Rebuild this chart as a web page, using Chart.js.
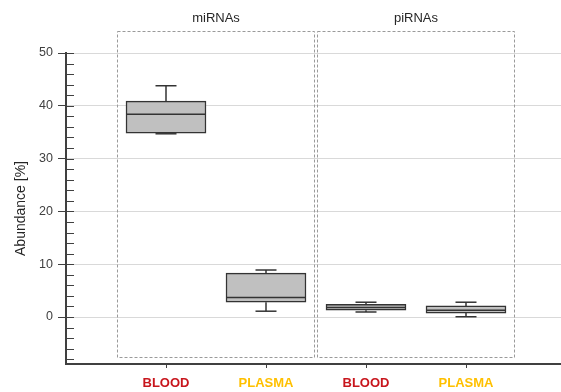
<!DOCTYPE html>
<html>
<head>
<meta charset="utf-8">
<script src="https://cdn.jsdelivr.net/npm/chart.js@4/dist/chart.umd.min.js"></script>
<style>
  html, body { margin: 0; padding: 0; background: #fff; }
</style>
</head>
<body>
<canvas id="chart" width="561" height="392"></canvas>
<script>
const categories = ['BLOOD', 'PLASMA', 'BLOOD', 'PLASMA'];
const labelColors = ['#c8161d', '#ffc000', '#c8161d', '#ffc000'];
const groups = ['miRNAs', 'piRNAs'];
const whiskerLow = [34.7, 1.1, 0.95, 0.05];
const q1 = [34.8, 2.8, 1.3, 0.75];
const median = [38.4, 3.7, 1.8, 1.3];
const q3 = [40.9, 8.3, 2.4, 2.1];
const whiskerHigh = [43.8, 8.9, 2.8, 2.8];
const yTicks = [0, 10, 20, 30, 40, 50];

const font = 'Liberation Sans, Arial, sans-serif';
Chart.defaults.font.family = font;

// minor ticks, dashed group panels, whiskers and medians
const boxExtras = {
  id: 'boxExtras',
  beforeDatasetsDraw(chart) {
    const { ctx, scales: { x, y } } = chart;
    ctx.save();
    ctx.strokeStyle = '#404040';
    ctx.lineWidth = 1;
    for (let v = -8; v <= 50; v += 2) {
      const py = Math.round(y.getPixelForValue(v)) + 0.5;
      ctx.beginPath();
      ctx.moveTo(x.left, py);
      ctx.lineTo(x.left + 8, py);
      ctx.stroke();
    }

    ctx.setLineDash([3, 2]);
    ctx.strokeStyle = '#9a9a9a';
    ctx.fillStyle = '#262626';
    ctx.font = '13px ' + font;
    ctx.textAlign = 'center';
    ctx.textBaseline = 'middle';
    groups.forEach((g, i) => {
      const l = Math.round(x.getPixelForValue(i * 2 + 0.51)) + 0.5;
      const r = Math.round(x.getPixelForValue(i * 2 + 2.48)) + 0.5;
      const t = Math.round(y.getPixelForValue(54.2)) + 0.5;
      const b = Math.round(y.getPixelForValue(-7.6)) + 0.5;
      ctx.strokeRect(l, t, r - l, b - t);
      ctx.fillText(g, (l + r) / 2, 18);
    });
    ctx.restore();
  },
  afterDatasetsDraw(chart) {
    const { ctx, scales: { x, y } } = chart;
    ctx.save();
    ctx.strokeStyle = '#333';
    ctx.lineWidth = 1.5;
    categories.forEach((c, i) => {
      const cx = x.getPixelForValue(i + 1);
      const half = 40, cap = 10.5;
      const seg = (x1, y1, x2, y2) => {
        ctx.beginPath(); ctx.moveTo(x1, y1); ctx.lineTo(x2, y2); ctx.stroke();
      };
      seg(cx, y.getPixelForValue(q3[i]), cx, y.getPixelForValue(whiskerHigh[i]));
      seg(cx - cap, y.getPixelForValue(whiskerHigh[i]), cx + cap, y.getPixelForValue(whiskerHigh[i]));
      seg(cx, y.getPixelForValue(q1[i]), cx, y.getPixelForValue(whiskerLow[i]));
      seg(cx - cap, y.getPixelForValue(whiskerLow[i]), cx + cap, y.getPixelForValue(whiskerLow[i]));
      seg(cx - half, y.getPixelForValue(median[i]), cx + half, y.getPixelForValue(median[i]));
    });
    ctx.restore();
  }
};

new Chart(document.getElementById('chart'), {
  type: 'bar',
  data: {
    datasets: [{
      data: categories.map((c, i) => ({ x: i + 1, y: [q1[i], q3[i]] })),
      backgroundColor: '#c0c0c0',
      borderColor: '#333',
      borderWidth: 1.5,
      borderSkipped: false,
      barThickness: 80
    }]
  },
  options: {
    responsive: false,
    animation: false,
    layout: { padding: { top: 53, left: 0, right: 0, bottom: 0 } },
    plugins: { legend: { display: false }, tooltip: { enabled: false } },
    scales: {
      x: {
        type: 'linear',
        min: 0,
        max: 4.95,
        offset: false,
        afterFit: s => { s.height = 28; },
        afterBuildTicks: s => { s.ticks = categories.map((c, i) => ({ value: i + 1 })); },
        ticks: {
          callback: (v, i) => categories[i],
          color: c => labelColors[c.index],
          font: { size: 13, weight: 'bold' },
          padding: 8,
          autoSkip: false,
          maxRotation: 0
        },
        grid: { offset: false, drawOnChartArea: false, tickLength: 4, tickColor: '#404040' },
        border: { color: '#404040', width: 2 }
      },
      y: {
        min: -8.9,
        max: 50,
        afterFit: s => { s.width = 66; },
        afterBuildTicks: s => { s.ticks = yTicks.map(v => ({ value: v })); },
        ticks: { color: '#404040', font: { size: 12.5 }, padding: 5 },
        grid: { color: '#d9d9d9', tickColor: '#404040', tickLength: 8 },
        border: { color: '#404040', width: 2 },
        title: {
          display: true,
          text: 'Abundance [%]',
          color: '#262626',
          font: { size: 14 },
          padding: { top: 13, bottom: 0 }
        }
      }
    }
  },
  plugins: [boxExtras]
});
</script>
</body>
</html>
